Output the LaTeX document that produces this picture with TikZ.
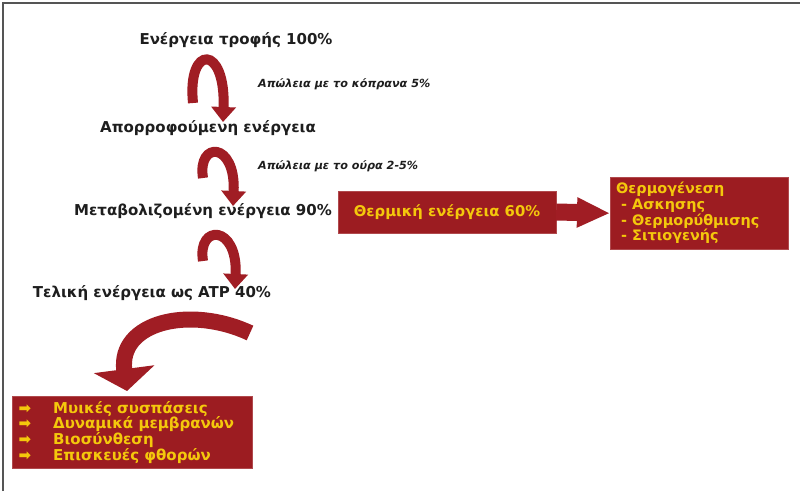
\documentclass[tikz,border=0pt]{standalone}
\usepackage{fontspec}
\setmainfont{DejaVu Sans}
\usetikzlibrary{arrows.meta}
\definecolor{dred}{HTML}{9C1C21}
\definecolor{ared}{HTML}{A01D24}
\definecolor{yel}{HTML}{F4C80C}
\definecolor{txt}{HTML}{1E1E1E}
\definecolor{frame}{HTML}{555555}
\tikzset{
  lbl/.style={text=txt,font=\fontsize{15}{17}\selectfont\bfseries,inner sep=0pt},
  loss/.style={text=txt,font=\fontsize{11.2}{13}\selectfont\bfseries\itshape,inner sep=0pt,anchor=west},
  redbox/.style={fill=dred,draw=dred!80!white,text=yel,inner sep=0pt},
  hook/.style={draw=ared,line width=10pt,-{Triangle[width=24pt,length=15pt]}},
  bigarrow/.style={draw=ared,line width=16pt,-{Triangle[width=60pt,length=22pt]}},
  flat/.style={draw=ared,line width=17pt,-{Triangle[width=28pt,length=33pt]}}
}
\begin{document}
\begin{tikzpicture}[x=1pt,y=-1pt]
\useasboundingbox (0,0) rectangle (800,491);
\fill[white] (0,0) rectangle (800,491);
% frame
\draw[frame,line width=2pt] (3,491) -- (3,3) -- (800,3);

% text labels
\node[lbl] (food) at (236,40) {Ενέργεια τροφής 100\%};
\node[lbl] (abs) at (208,128) {Απορροφούμενη ενέργεια};
\node[lbl] (met) at (203,211) {Μεταβολιζομένη ενέργεια 90\%};
\node[lbl] (atp) at (152,293) {Τελική ενέργεια ως ATP 40\%};
\node[loss] (l1) at (258,84) {Απώλεια με το κόπρανα 5\%};
\node[loss] (l2) at (258,166) {Απώλεια με το ούρα 2-5\%};

% boxes
\node[redbox,minimum width=218pt,minimum height=42pt,font=\fontsize{14.8}{17}\selectfont\bfseries] (heat) at (447,212) {Θερμική ενέργεια 60\%};
\node[redbox,minimum width=178pt,minimum height=72pt,anchor=north west] (thermo) at (610,177) {};
\node[text=yel,font=\fontsize{14.4}{15.7}\selectfont\bfseries,align=left,anchor=north west,inner sep=0pt] (thermotxt) at (616,182)
  {Θερμογένεση\\\ - Ασκησης\\\ - Θερμορύθμισης\\\ - Σιτιογενής};
\node[redbox,minimum width=240pt,minimum height=72pt,anchor=north west] (uses) at (12,396) {};
\node[text=yel,font=\fontsize{15}{15.6}\selectfont\bfseries,align=left,anchor=north west,inner sep=0pt] (usestxt) at (53,401)
  {Μυικές συσπάσεις\\Δυναμικά μεμβρανών\\Βιοσύνθεση\\Επισκευές φθορών};
\foreach \i/\y in {1/409,2/424,3/440,4/456}
  \node[text=yel,font=\fontsize{15}{15}\selectfont\bfseries,inner sep=0pt] (b\i) at (25,\y) {➡};

% hook arrows
\coordinate (h1s) at (193,103); \coordinate (h1e) at (223,122);
\coordinate (h2s) at (203,178); \coordinate (h2e) at (233,206);
\coordinate (h3s) at (203,261); \coordinate (h3e) at (235,289);
\draw[hook] (h1s) .. controls (187,44) and (226,44) .. (h1e);
\draw[hook] (h2s) .. controls (197,141) and (236,141) .. (h2e);
\draw[hook] (h3s) .. controls (197,224) and (238,224) .. (h3e);

% big arrow
\coordinate (bs) at (250,333); \coordinate (be) at (127,391);
\draw[bigarrow] (bs) .. controls (190,305) and (118,322) .. (be);

% arrow between boxes
\draw[flat] (heat.east) -- (thermo.west);
\end{tikzpicture}
\end{document}
